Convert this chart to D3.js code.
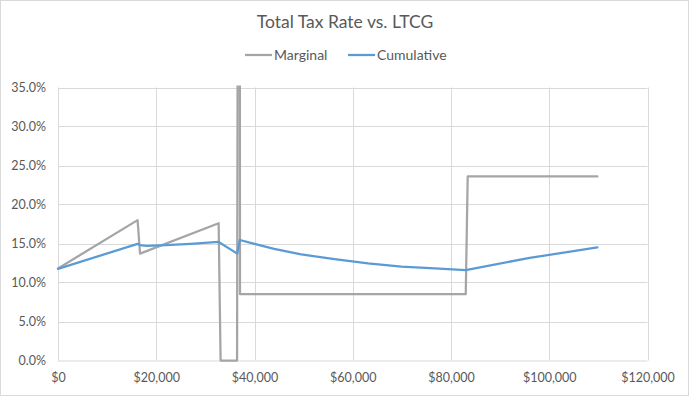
<!DOCTYPE html>
<html>
<head>
<meta charset="utf-8">
<script src="https://cdn.jsdelivr.net/npm/d3@7"></script>
<style>
  html, body { margin: 0; padding: 0; background: #fff; }
  svg { display: block; font-family: Lato, "Liberation Sans", sans-serif; }
</style>
</head>
<body>
<svg id="chart" width="690" height="397"></svg>
<script>
// ---- data ----
const title = "Total Tax Rate vs. LTCG";
const seriesNames = ["Marginal", "Cumulative"];
const seriesColors = ["#a5a5a5", "#5b9bd5"];

const marginalX = [0, 16200, 16700, 32700, 33100, 36450, 36900, 37050, 83000, 83400, 109800];
const marginalY = [0.118, 0.180, 0.137, 0.176, 0.0, 0.0, 1.5, 0.085, 0.085, 0.236, 0.236];

const cumulativeX = [0, 16200, 16700, 18000, 22000, 27000, 32700, 36500, 37000, 40000, 44000, 49500, 56300, 63100, 69900, 76700, 83000, 96000, 109800];
const cumulativeY = [0.1175, 0.1495, 0.148, 0.147, 0.148, 0.1495, 0.152, 0.137, 0.1545, 0.1495, 0.143, 0.136, 0.130, 0.1245, 0.1205, 0.118, 0.116, 0.1315, 0.145];

const xTicks = [0, 20000, 40000, 60000, 80000, 100000, 120000];
const yTicks = [0, 0.05, 0.10, 0.15, 0.20, 0.25, 0.30, 0.35];

// ---- layout ----
const W = 690, H = 397;
const plot = { left: 58, right: 647.5, top: 87.5, bottom: 360.5 };
const svg = d3.select("#chart");

svg.append("rect").attr("x", 0.5).attr("y", 0.5).attr("width", W - 2).attr("height", H - 2)
  .attr("fill", "#fff").attr("stroke", "#d9d9d9").attr("stroke-width", 1);

const x = d3.scaleLinear().domain([0, 120000]).range([plot.left, plot.right]);
const y = d3.scaleLinear().domain([0, 0.35]).range([plot.bottom, plot.top]);

// gridlines
const grid = svg.append("g");
grid.selectAll("line.h").data(yTicks.filter(d => d > 0)).join("line")
  .attr("x1", plot.left).attr("x2", plot.right)
  .attr("y1", d => Math.round(y(d)) + 0.5).attr("y2", d => Math.round(y(d)) + 0.5)
  .attr("stroke", "#d9d9d9").attr("stroke-width", 1);
grid.selectAll("line.v").data(xTicks.filter(d => d > 0)).join("line")
  .attr("y1", plot.top).attr("y2", plot.bottom)
  .attr("x1", d => Math.round(x(d)) + 0.5).attr("x2", d => Math.round(x(d)) + 0.5)
  .attr("stroke", "#d9d9d9").attr("stroke-width", 1);

// axes
const xAxis = d3.axisBottom(x).tickValues(xTicks).tickSize(0).tickPadding(13)
  .tickFormat(d => "$" + d3.format(",")(d));
const yAxis = d3.axisLeft(y).tickValues(yTicks).tickSize(0).tickPadding(12)
  .tickFormat(d3.format(".1%"));

const gx = svg.append("g").attr("transform", `translate(0,${plot.bottom})`).call(xAxis);
const gy = svg.append("g").attr("transform", `translate(${plot.left},0)`).call(yAxis);
[gx, gy].forEach(g => {
  g.selectAll("text").attr("fill", "#595959").attr("font-size", 12.5)
    .attr("font-family", "Lato, 'Liberation Sans', sans-serif");
});
gx.select(".domain").attr("stroke", "#d9d9d9").attr("stroke-width", 1)
  .attr("d", `M${plot.left},0.5H${plot.right}`);
gy.select(".domain").attr("stroke", "#d9d9d9").attr("stroke-width", 1)
  .attr("d", `M0.5,${plot.top}V${plot.bottom}`);

// clip
svg.append("clipPath").attr("id", "clip").append("rect")
  .attr("x", plot.left - 5).attr("y", plot.top - 2)
  .attr("width", plot.right - plot.left + 10).attr("height", plot.bottom - plot.top + 6);

const line = d3.line().x(d => x(d[0])).y(d => y(d[1]));
const series = [
  d3.zip(marginalX, marginalY),
  d3.zip(cumulativeX, cumulativeY)
];
const lines = svg.append("g").attr("clip-path", "url(#clip)");
series.forEach((s, i) => {
  lines.append("path").datum(s).attr("d", line)
    .attr("fill", "none").attr("stroke", seriesColors[i])
    .attr("stroke-width", 2.25).attr("stroke-linejoin", "round").attr("stroke-linecap", "round");
});

// title
svg.append("text").attr("x", 345).attr("y", 28).attr("text-anchor", "middle")
  .attr("fill", "#595959").attr("font-size", 17.5).text(title);

// legend
const legend = svg.append("g");
const legendPos = [245, 348];
seriesNames.forEach((name, i) => {
  const g = legend.append("g").attr("transform", `translate(${legendPos[i]},55)`);
  g.append("line").attr("x1", 0).attr("x2", 27).attr("y1", 0).attr("y2", 0)
    .attr("stroke", seriesColors[i]).attr("stroke-width", 2.25);
  g.append("text").attr("x", 29).attr("y", 5).attr("fill", "#595959")
    .attr("font-size", 14).text(name);
});
</script>
</body>
</html>
